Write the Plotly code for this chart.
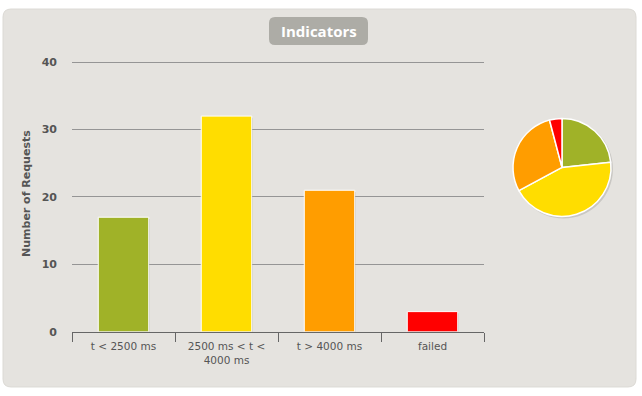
import plotly.graph_objects as go

categories = ["t < 2500 ms", "2500 ms < t < 4000 ms", "t > 4000 ms", "failed"]
tick_labels = ["t &lt; 2500 ms", "2500 ms &lt; t &lt;<br>4000 ms", "t &gt; 4000 ms", "failed"]
requests = [17, 32, 21, 3]
colors = ["#A0B228", "#FFDD00", "#FF9D00", "#FF0000"]
y_ticks = [0, 10, 20, 30, 40]

W, H = 642, 396      # target picture size
FIG_H = 404          # figure height (picture appears vertically compressed to H)

def px(x):
    return x / W

def py(y):
    return 1 - y / H

def rounded_rect(x0, y0, x1, y1, r):
    X0, X1 = px(x0), px(x1)
    Y0, Y1 = py(y0), py(y1)
    rx, ry = r / W, r / H
    return (f"M {X0+rx},{Y0} L {X1-rx},{Y0} Q {X1},{Y0} {X1},{Y0-ry} "
            f"L {X1},{Y1+ry} Q {X1},{Y1} {X1-rx},{Y1} "
            f"L {X0+rx},{Y1} Q {X0},{Y1} {X0},{Y1+ry} "
            f"L {X0},{Y0-ry} Q {X0},{Y0} {X0+rx},{Y0} Z")

# plot area in pixels: value 0 at y=331, value 40 at y=62
y0_px, y40_px = 331, 62
unit_px = (y0_px - y40_px) / 40.0
y_top_val = 41
y_top_px = y0_px - y_top_val * unit_px

fig = go.Figure()

# shadow of bars
fig.add_trace(go.Bar(
    x=categories, y=requests, base=[-0.25] * len(requests),
    width=0.49, offset=-0.235,
    marker=dict(color="rgba(0,0,0,0.13)", line=dict(width=0)),
    hoverinfo="skip", showlegend=False,
))
fig.add_trace(go.Bar(
    x=categories, y=requests, width=0.49, offset=-0.245,
    marker=dict(color=colors, line=dict(color="white", width=1)),
    showlegend=False,
))

pie_cx, pie_cy, pie_r = 562, 167, 49
fig.add_trace(go.Pie(
    labels=categories, values=requests, sort=False, direction="clockwise",
    rotation=0, textinfo="none",
    marker=dict(colors=colors, line=dict(color="white", width=1.5)),
    domain=dict(x=[px(pie_cx - pie_r), px(pie_cx + pie_r)],
                y=[py(pie_cy + pie_r), py(pie_cy - pie_r)]),
    showlegend=False,
))

fig.update_layout(
    width=W, height=FIG_H, autosize=False,
    margin=dict(l=0, r=0, t=0, b=0),
    paper_bgcolor="white", plot_bgcolor="rgba(0,0,0,0)",
    barmode="overlay",
    font=dict(family="DejaVu Sans", color="#555555"),
    shapes=[
        dict(type="path", xref="paper", yref="paper",
             path=rounded_rect(3, 9, 636, 386, 8),
             fillcolor="#E5E3DF", line=dict(color="#DCDAD5", width=1), layer="below"),
        dict(type="path", xref="paper", yref="paper",
             path=rounded_rect(269, 17, 368, 45, 6),
             fillcolor="#ADACA6", line=dict(width=0), layer="below"),
        dict(type="circle", xref="paper", yref="paper",
             x0=px(pie_cx - pie_r + 1), x1=px(pie_cx + pie_r + 2),
             y0=py(pie_cy + pie_r + 2), y1=py(pie_cy - pie_r + 1),
             fillcolor="rgba(0,0,0,0.12)", line=dict(width=0), layer="below"),
    ],
    annotations=[
        dict(text="<b>Indicators</b>", x=px(318.5), y=py(31), xref="paper", yref="paper",
             showarrow=False, xanchor="center", yanchor="middle",
             font=dict(family="Open Sans", size=15, color="white")),
    ],
    xaxis=dict(
        domain=[px(72), px(484)],
        type="category",
        tickvals=categories, ticktext=tick_labels,
        tickson="boundaries", ticks="outside", ticklen=9, tickcolor="#666666",
        ticklabelstandoff=5,
        showline=True, linecolor="#666666", linewidth=1,
        showgrid=False, zeroline=False,
        tickfont=dict(size=10.5, color="#555555"),
        fixedrange=True,
    ),
    yaxis=dict(
        domain=[py(y0_px), py(y_top_px)],
        range=[0, y_top_val],
        tickvals=y_ticks, ticktext=[f"<b>{v}</b>" for v in y_ticks],
        showgrid=True, gridcolor="#959595", gridwidth=1,
        zeroline=False, showline=False,
        ticks="", ticklabelstandoff=14,
        tickfont=dict(size=11, color="#555555"),
        title=dict(text="<b>Number of Requests</b>", font=dict(size=11, color="#555555"),
                   standoff=8),
        fixedrange=True,
    ),
)

post = (
    "document.documentElement.style.margin='0';"
    "document.documentElement.style.overflow='hidden';"
    "document.body.style.margin='0';document.body.style.padding='0';"
    "document.body.style.overflow='hidden';"
    "var gd=document.getElementById('{plot_id}');"
    "gd.style.position='fixed';gd.style.top='0px';gd.style.left='0px';"
)

fig.write_html("out.html", post_script=post, config={"displayModeBar": False})
